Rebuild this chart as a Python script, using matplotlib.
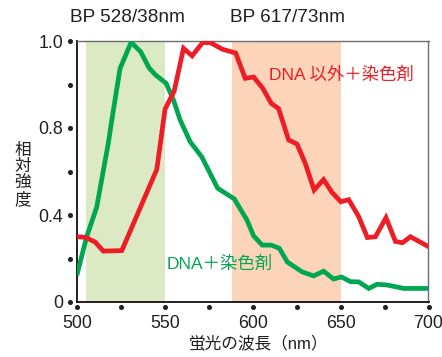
import numpy as np
import matplotlib
matplotlib.use("Agg")
import matplotlib.pyplot as plt
import matplotlib.transforms as mtransforms

plt.rcParams['font.family'] = ['Liberation Sans', 'Noto Sans CJK JP', 'DejaVu Sans']

# --- data (relative intensity as fraction of axis height) ---
green_wl = [500.2, 505.5, 511.2, 517.8, 519.8, 524.5, 530.8, 536.2, 541.0, 544.7,
            550.7, 554.9, 558.7, 564.4, 571.0, 580.0, 589.5, 596.7, 600.5, 605.4,
            610.5, 615.1, 619.7, 628.2, 634.6, 640.3, 646.0, 650.4, 655.6, 660.3,
            666.0, 670.8, 676.5, 685.9, 700.0]
green_val = [0.110, 0.250, 0.363, 0.608, 0.697, 0.895, 0.995, 0.959, 0.897, 0.870,
             0.838, 0.774, 0.697, 0.614, 0.556, 0.436, 0.395, 0.314, 0.253, 0.218,
             0.218, 0.206, 0.153, 0.115, 0.100, 0.118, 0.088, 0.096, 0.078, 0.077,
             0.052, 0.068, 0.065, 0.052, 0.052]

red_wl = [500.0, 504.6, 510.3, 515.0, 525.5, 545.4, 550.1, 555.3, 560.6, 565.5,
          571.5, 575.8, 582.9, 590.3, 595.7, 600.5, 605.7, 610.5, 614.7, 620.4,
          625.2, 629.9, 634.9, 640.3, 645.1, 650.1, 654.6, 660.3, 665.2, 669.8,
          675.8, 681.2, 685.2, 689.7, 700.0]
red_val = [0.250, 0.248, 0.230, 0.195, 0.197, 0.508, 0.739, 0.808, 0.972, 0.943,
           0.994, 0.994, 0.968, 0.954, 0.857, 0.862, 0.819, 0.761, 0.741, 0.621,
           0.605, 0.531, 0.429, 0.469, 0.420, 0.384, 0.392, 0.327, 0.247, 0.250,
           0.323, 0.232, 0.227, 0.250, 0.212]

green_band = (505, 550)
orange_band = (588, 650)

x_ticks = [500, 525, 550, 575, 600, 625, 650, 675, 700]
x_labels = ['500', '', '550', '', '600', '', '650', '', '700']
y_ticks = [0, 1/6, 2/6, 3/6, 4/6, 5/6, 1.0]
y_labels = ['0', '', '0.4', '', '0.8', '', '1.0']
y_title = '相対強度'

GREEN = '#00A650'
RED = '#EE1C25'
DARK = '#231F20'

fig = plt.figure(figsize=(4.42, 3.57), dpi=100)
ax = fig.add_axes([77/442, 1-302/357, (428.5-77)/442, (302-41)/357])

ax.axvspan(*green_band, color='#DBE9C4', lw=0, zorder=0)
ax.axvspan(*orange_band, color='#FCD4BA', lw=0, zorder=0)

ax.plot(green_wl, green_val, color=GREEN, lw=3.4, solid_joinstyle='miter', zorder=3)
ax.plot(red_wl, red_val, color=RED, lw=3.4, solid_joinstyle='miter', zorder=3)

ax.set_xlim(500, 700)
ax.set_ylim(0, 1.0)

ax.set_xticks(x_ticks)
ax.set_xticklabels(x_labels)
ax.set_yticks(y_ticks)
ax.set_yticklabels(y_labels)
ax.tick_params(length=0, labelsize=12.8, colors=DARK, pad=9)
ax.tick_params(axis='y', pad=10)

for s in ['left', 'bottom']:
    ax.spines[s].set_color(DARK)
    ax.spines[s].set_linewidth(1.4)
for s in ['top', 'right']:
    ax.spines[s].set_color('#6d6d6d')
    ax.spines[s].set_linewidth(1.0)

# dot tick marks outside axes
tx = mtransforms.blended_transform_factory(ax.transData, ax.transAxes)
off_x = mtransforms.ScaledTranslation(0, -5/100, fig.dpi_scale_trans)
ax.plot(x_ticks, [0]*len(x_ticks), 'o', ms=2.6, color=DARK, transform=tx + off_x, clip_on=False)
ty = mtransforms.blended_transform_factory(ax.transAxes, ax.transData)
off_y = mtransforms.ScaledTranslation(-7/100, 0, fig.dpi_scale_trans)
ax.plot([0]*len(y_ticks), y_ticks, 'o', ms=2.6, color=DARK, transform=ty + off_y, clip_on=False)

# titles above bands
fig.text(127.5/442, 1-18/357, 'BP 528/38nm', ha='center', va='center', fontsize=13.7, color=DARK)
fig.text(288/442, 1-18/357, 'BP 617/73nm', ha='center', va='center', fontsize=13.7, color=DARK)

# series labels
fig.text(341/442, 1-75/357, 'DNA 以外＋染色剤', ha='center', va='center', fontsize=12.5, color=RED)
fig.text(220/442, 1-264/357, 'DNA＋染色剤', ha='center', va='center', fontsize=12.5, color=GREEN)

# axis labels (vertical stacked characters)
for i, ch in enumerate(y_title):
    fig.text(23/442, 1-(150 + i*16.5)/357, ch, ha='center', va='center', fontsize=12, color=DARK)
fig.text(259/442, 1-344/357, '蛍光の波長（nm）', ha='center', va='center', fontsize=12, color=DARK)

fig.savefig('out.png', dpi=100)
